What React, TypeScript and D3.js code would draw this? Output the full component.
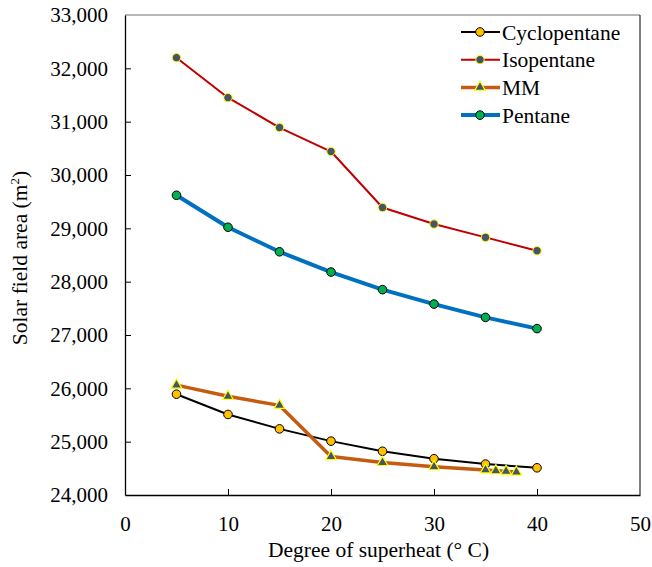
import React, { useEffect, useRef } from 'react'
import * as d3 from 'd3'

// degree of superheat (°C)
const superheat = [5, 10, 15, 20, 25, 30, 35, 40]
const superheatMM = [5, 10, 15, 20, 25, 30, 35, 36, 37, 38]

// solar field area (m²)
const cyclopentane = [25890, 25510, 25240, 25010, 24820, 24680, 24580, 24510]
const isopentane = [32200, 31450, 30890, 30440, 29390, 29080, 28830, 28580]
const mm = [26060, 25850, 25680, 24720, 24610, 24530, 24470, 24455, 24445, 24430]
const pentane = [29620, 29020, 28560, 28180, 27850, 27580, 27330, 27120]

const xTicks = [0, 10, 20, 30, 40, 50]
const yTicks = [24000, 25000, 26000, 27000, 28000, 29000, 30000, 31000, 32000, 33000]

const FONT = "'Liberation Serif', Tinos, 'Times New Roman', Times, 'DejaVu Serif', serif"

const series = [
    { name: 'Cyclopentane', xs: superheat, ys: cyclopentane, line: '#000000', width: 2, shape: 'circle', fill: '#ffc000', edge: '#000000', r: 4.3 },
    { name: 'Isopentane', xs: superheat, ys: isopentane, line: '#c00000', width: 2, shape: 'circle', fill: '#44546a', edge: '#ffff00', r: 4.2 },
    { name: 'MM', xs: superheatMM, ys: mm, line: '#c55a11', width: 3.5, shape: 'triangle', fill: '#44546a', edge: '#ffff00', r: 0 },
    { name: 'Pentane', xs: superheat, ys: pentane, line: '#0070c0', width: 4, shape: 'circle', fill: '#00b050', edge: '#000000', r: 4.3 },
]

export default function App() {
    const ref = useRef<SVGSVGElement>(null)

    useEffect(() => {
        const width = 652, height = 567
        const left = 125, right = 640, top = 15, bottom = 495

        const svg = d3.select(ref.current)
        svg.selectAll('*').remove()
        svg.attr('width', width).attr('height', height)

        const x = d3.scaleLinear().domain([0, 50]).range([left, right])
        const y = d3.scaleLinear().domain([24000, 33000]).range([bottom, top])

        // frame
        svg.append('line').attr('x1', left).attr('x2', right).attr('y1', top).attr('y2', top)
            .attr('stroke', '#6e6e6e').attr('stroke-width', 1)
        svg.append('line').attr('x1', right).attr('x2', right).attr('y1', top).attr('y2', bottom)
            .attr('stroke', '#000').attr('stroke-width', 1)

        const xAxis = svg.append('g').attr('transform', `translate(0,${bottom})`)
            .call(d3.axisBottom(x).tickValues(xTicks).tickSizeInner(-6).tickSizeOuter(0).tickPadding(21))
        const yAxis = svg.append('g').attr('transform', `translate(${left},0)`)
            .call(d3.axisLeft(y).tickValues(yTicks).tickSizeInner(-6).tickSizeOuter(0).tickPadding(17)
                .tickFormat(d3.format(',')))

        for (const ax of [xAxis, yAxis]) {
            ax.attr('font-family', null).style('font-family', FONT)
            ax.select('.domain').attr('stroke', '#000').attr('stroke-width', 1.3)
            ax.selectAll('.tick line').attr('stroke', '#000')
            ax.selectAll('.tick text').style('font-family', FONT).attr('font-size', 21).attr('fill', '#000')
        }
        // no inner marks on the frame corners
        yAxis.selectAll('.tick').filter((d: any) => d === 24000 || d === 33000).select('line').remove()
        xAxis.selectAll('.tick').filter((d: any) => d === 0 || d === 50).select('line').remove()

        const triangle = d3.symbol().type(d3.symbolTriangle).size(48)

        const drawMarker = (g: any, s: any, cx: number, cy: number) => {
            if (s.shape === 'circle') {
                g.append('circle').attr('cx', cx).attr('cy', cy).attr('r', s.r)
                    .attr('fill', s.fill).attr('stroke', s.edge).attr('stroke-width', 1)
            } else {
                g.append('path').attr('d', triangle())
                    .attr('transform', `translate(${cx},${cy})`)
                    .attr('fill', s.fill).attr('stroke', s.edge).attr('stroke-width', 1.2)
            }
        }

        const line = d3.line<[number, number]>().x(d => x(d[0])).y(d => y(d[1]))

        series.forEach(s => {
            const pts: [number, number][] = s.xs.map((v, i) => [v, s.ys[i]])
            const g = svg.append('g')
            g.append('path').attr('d', line(pts)).attr('fill', 'none')
                .attr('stroke', s.line).attr('stroke-width', s.width).attr('stroke-linejoin', 'round')
            pts.forEach(p => drawMarker(g, s, x(p[0]), y(p[1])))
        })

        // legend
        const legend = svg.append('g')
        series.forEach((s, i) => {
            const ly = 32 + i * 27.7
            legend.append('line').attr('x1', 461).attr('x2', 500).attr('y1', ly).attr('y2', ly)
                .attr('stroke', s.line).attr('stroke-width', s.width)
            drawMarker(legend, s, 480, ly)
            legend.append('text').attr('x', 502).attr('y', ly).attr('dy', '0.35em')
                .style('font-family', FONT).attr('font-size', 21.5).attr('fill', '#000').text(s.name)
        })

        // axis titles
        svg.append('text').attr('x', (left + right) / 2 - 4).attr('y', 557)
            .attr('text-anchor', 'middle').style('font-family', FONT).attr('font-size', 21.5).attr('fill', '#000')
            .text('Degree of superheat (° C)')

        const yt = svg.append('text').attr('transform', `translate(27,${(top + bottom) / 2 + 3}) rotate(-90)`)
            .attr('text-anchor', 'middle').style('font-family', FONT).attr('font-size', 21.5).attr('fill', '#000')
        yt.append('tspan').text('Solar field area (m')
        yt.append('tspan').attr('font-size', 13).attr('dy', -8).text('2')
        yt.append('tspan').attr('dy', 8).text(')')
    }, [])

    return (
        <svg ref={ref} style={{ position: 'absolute', left: 0, top: 0, background: '#fff' }} />
    )
}
